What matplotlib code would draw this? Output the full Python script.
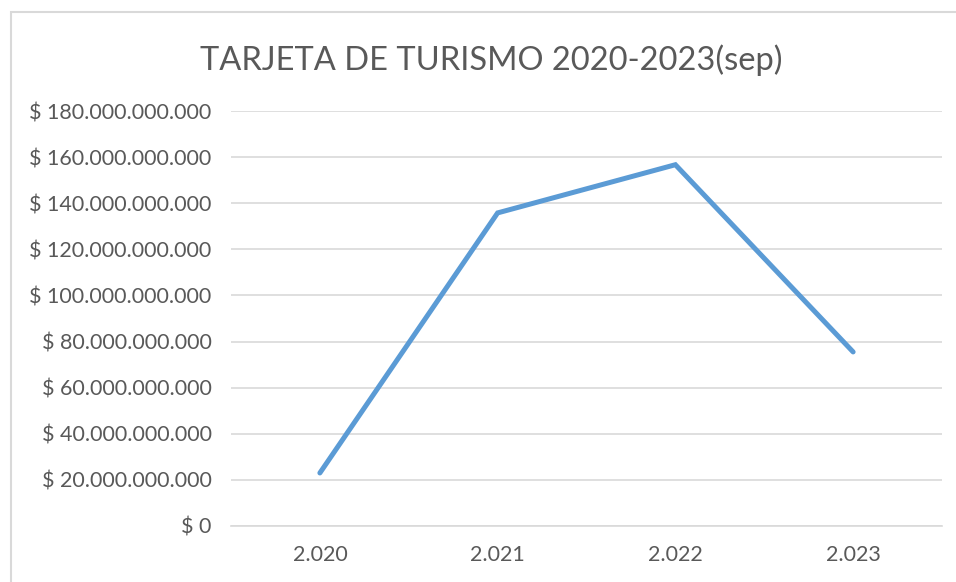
import matplotlib
matplotlib.use("Agg")
import matplotlib.pyplot as plt
from matplotlib.patches import Rectangle
from matplotlib.ticker import FuncFormatter

years = ["2.020", "2.021", "2.022", "2.023"]
values = [23.0e9, 135.8e9, 156.7e9, 75.5e9]
yticks = [0, 20e9, 40e9, 60e9, 80e9, 100e9, 120e9, 140e9, 160e9, 180e9]
title = "TARJETA DE TURISMO 2020-2023(sep)"

plt.rcParams['font.family'] = ['Lato', 'DejaVu Sans']
W, H = 956, 582
fig = plt.figure(figsize=(W/100, H/100), dpi=100)

# chart frame
fig.patches.append(Rectangle((11/W, -0.1), 1.2, 1 - 12/H + 0.1, transform=fig.transFigure,
                             fill=False, edgecolor='#D9D9D9', linewidth=1.5))

ax = fig.add_axes([231/W, 1 - 526/H, (942-231)/W, (526-111)/H])
x = list(range(len(years)))
ax.plot(x, values, color='#5B9BD5', linewidth=3.6, solid_capstyle='round', solid_joinstyle='miter', zorder=3)
ax.set_xlim(-0.5, len(years) - 0.5)
ax.set_ylim(0, 180e9)
ax.set_yticks(yticks)

def fmt(v, pos):
    if v == 0:
        return "$ 0"
    return "$ " + f"{int(round(v)):,}".replace(",", ".")

ax.yaxis.set_major_formatter(FuncFormatter(fmt))
ax.set_xticks(x)
ax.set_xticklabels(years)
ax.grid(axis='y', color='#D9D9D9', linewidth=1.2)
ax.set_axisbelow(True)
for s in ['top', 'right', 'left']:
    ax.spines[s].set_visible(False)
ax.spines['bottom'].set_color('#D9D9D9')
ax.spines['bottom'].set_linewidth(1.2)
ax.tick_params(axis='both', length=0, colors='#595959', labelsize=15.5)
ax.tick_params(axis='y', pad=14)
ax.tick_params(axis='x', pad=14)

fig.text(491/W, 1 - 60/H, title, ha='center', va='center', fontsize=23.5, color='#595959')

fig.savefig("out.png", dpi=100)
